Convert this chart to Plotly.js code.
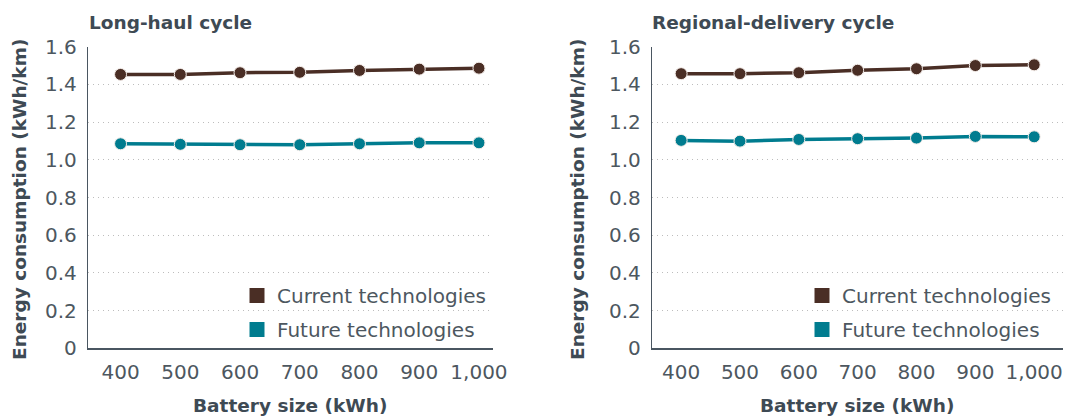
<!DOCTYPE html>
<html>
<head>
<meta charset="utf-8">
<script src="https://cdn.plot.ly/plotly-3.0.1.min.js"></script>
<style>html,body{margin:0;padding:0;background:#fff;}#chart{width:1068px;height:416px;}</style>
</head>
<body>
<div id="chart"></div>
<script>
// ---- data ----
const batterySizes = ['400', '500', '600', '700', '800', '900', '1,000'];
const longHaulCurrent = [1.453, 1.453, 1.462, 1.464, 1.474, 1.481, 1.486];
const longHaulFuture = [1.085, 1.082, 1.080, 1.080, 1.085, 1.090, 1.090];
const regionalCurrent = [1.457, 1.457, 1.462, 1.475, 1.483, 1.500, 1.504];
const regionalFuture = [1.103, 1.099, 1.108, 1.112, 1.115, 1.124, 1.122];
const yTickVals = [0, 0.2, 0.4, 0.6, 0.8, 1.0, 1.2, 1.4, 1.6];
const yTickText = ['0', '0.2', '0.4', '0.6', '0.8', '1.0', '1.2', '1.4', '1.6'];
const seriesNames = ['Current technologies', 'Future technologies'];
const panelTitles = ['Long-haul cycle', 'Regional-delivery cycle'];

// ---- style ----
const cCurrent = '#4a2e25';
const cFuture = '#007c8f';
const txt = '#4d575f';
const ttl = '#3e4a54';
const font = 'DejaVu Sans, sans-serif';

function lineTrace(y, color, xa, ya) {
  return {
    type: 'scatter', mode: 'lines+markers', x: batterySizes, y: y,
    xaxis: xa, yaxis: ya, showlegend: false, hoverinfo: 'skip',
    line: {color: color, width: 3.5},
    marker: {color: color, size: 12, line: {color: '#f3ece8', width: 1}}
  };
}
function legendTrace(name, color, xa, ya, leg, grp) {
  return {
    type: 'scatter', mode: 'markers', x: [null], y: [null], name: name, xaxis: xa, yaxis: ya,
    legend: leg, legendgroup: grp, showlegend: true,
    marker: {color: color, symbol: 'square', size: 15, line: {width: 0}}
  };
}

const data = [
  lineTrace(longHaulCurrent, cCurrent, 'x', 'y'),
  lineTrace(longHaulFuture, cFuture, 'x', 'y'),
  lineTrace(regionalCurrent, cCurrent, 'x2', 'y2'),
  lineTrace(regionalFuture, cFuture, 'x2', 'y2'),
  legendTrace(seriesNames[0], cCurrent, 'x', 'y', 'legend', 'a'),
  legendTrace(seriesNames[1], cFuture, 'x', 'y', 'legend', 'b'),
  legendTrace(seriesNames[0], cCurrent, 'x2', 'y2', 'legend2', 'c'),
  legendTrace(seriesNames[1], cFuture, 'x2', 'y2', 'legend2', 'd')
];

function xAxis(domain, range, anchor) {
  return {
    domain: domain, range: range, anchor: anchor, type: 'category',
    showline: true, linecolor: '#4a5661', linewidth: 1.5,
    showgrid: false, zeroline: false, ticks: '',
    ticklabelstandoff: 5,
    tickfont: {family: font, size: 20, color: txt}, fixedrange: true
  };
}
function yAxis(domain, anchor) {
  return {
    domain: domain, range: [0, 1.6], anchor: anchor,
    tickvals: yTickVals, ticktext: yTickText,
    showline: true, linecolor: '#4a5661', linewidth: 1.5,
    showgrid: true, gridcolor: '#bdbdbd', gridwidth: 1, griddash: '1px,4px',
    zeroline: false, ticks: '', ticklabelstandoff: 6,
    tickfont: {family: font, size: 20, color: txt}, fixedrange: true
  };
}

const yDom = [1 - 348.3 / 416, 1 - 46.7 / 416];
const legendCommon = {
  bgcolor: 'rgba(0,0,0,0)', font: {family: font, size: 20, color: txt},
  orientation: 'v', traceorder: 'grouped', tracegroupgap: 5,
  yanchor: 'top', xanchor: 'left'
};

const layout = {
  width: 1068, height: 416,
  margin: {l: 0, r: 0, t: 0, b: 0},
  paper_bgcolor: '#fff', plot_bgcolor: '#fff',
  xaxis: xAxis([88.3 / 1068, 492.7 / 1068], [-0.54, 6.23], 'y'),
  yaxis: yAxis(yDom, 'x'),
  xaxis2: xAxis([652.3 / 1068, 1063 / 1068], [-0.49, 6.49], 'y2'),
  yaxis2: yAxis(yDom, 'x2'),
  legend: Object.assign({}, legendCommon, {x: 237 / 1068, y: 1 - 276 / 416}),
  legend2: Object.assign({}, legendCommon, {x: 802 / 1068, y: 1 - 276 / 416}),
  annotations: [
    {text: '<b>' + panelTitles[0] + '</b>', xref: 'paper', yref: 'paper', x: 87 / 1068, y: 1 - 22 / 416,
     xanchor: 'left', yanchor: 'middle', showarrow: false, font: {family: font, size: 18.5, color: ttl}},
    {text: '<b>' + panelTitles[1] + '</b>', xref: 'paper', yref: 'paper', x: 650 / 1068, y: 1 - 22 / 416,
     xanchor: 'left', yanchor: 'middle', showarrow: false, font: {family: font, size: 18.5, color: ttl}},
    {text: '<b>Energy consumption (kWh/km)</b>', xref: 'paper', yref: 'paper', x: 19 / 1068, y: 1 - 200 / 416,
     xanchor: 'center', yanchor: 'middle', textangle: -90, showarrow: false, font: {family: font, size: 18.5, color: ttl}},
    {text: '<b>Energy consumption (kWh/km)</b>', xref: 'paper', yref: 'paper', x: 577 / 1068, y: 1 - 200 / 416,
     xanchor: 'center', yanchor: 'middle', textangle: -90, showarrow: false, font: {family: font, size: 18.5, color: ttl}},
    {text: '<b>Battery size (kWh)</b>', xref: 'paper', yref: 'paper', x: 290 / 1068, y: 1 - 405 / 416,
     xanchor: 'center', yanchor: 'middle', showarrow: false, font: {family: font, size: 18.5, color: ttl}},
    {text: '<b>Battery size (kWh)</b>', xref: 'paper', yref: 'paper', x: 857 / 1068, y: 1 - 405 / 416,
     xanchor: 'center', yanchor: 'middle', showarrow: false, font: {family: font, size: 18.5, color: ttl}}
  ]
};

Plotly.newPlot('chart', data, layout, {displayModeBar: false, staticPlot: true});
</script>
</body>
</html>
